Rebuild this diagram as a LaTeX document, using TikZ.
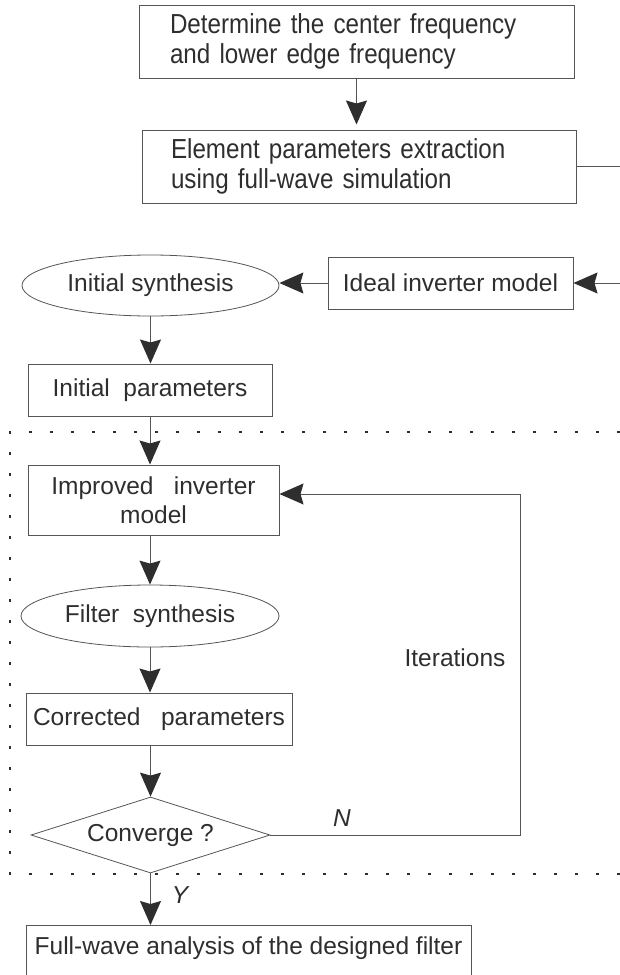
\documentclass[tikz,border=0pt]{standalone}
\usepackage{fontspec}
\setmainfont{Liberation Sans}
\newfontfamily\tallfont{Liberation Sans}[FakeStretch=0.88]
\usetikzlibrary{shapes.geometric,arrows.meta,positioning,calc}

\definecolor{linegray}{HTML}{555555}
\definecolor{inkgray}{HTML}{2E2E2E}

\begin{document}
\begin{tikzpicture}[x=1pt, y=-1pt,
    every node/.style={font=\fontsize{24.5}{29}\selectfont, text=inkgray},
    box/.style={draw=linegray, line width=1pt, rectangle, inner sep=0pt, align=center},
    topbox/.style={box, minimum height=73pt, align=left, font=\tallfont\fontsize{27.5}{30}\selectfont},
    oval/.style={draw=linegray, line width=0.8pt, ellipse, inner sep=0pt},
    decision/.style={draw=linegray, line width=0.8pt, diamond, aspect=3.14, inner sep=0pt},
    link/.style={draw=linegray, line width=1pt},
    flow/.style={link, -{Stealth[length=24pt, width=21pt, inset=3pt, color=inkgray]}},
    frame/.style={draw=inkgray, line width=2.8pt, dash pattern=on 2.8pt off 18.2pt},
    tag/.style={font=\fontsize{24.5}{29}\selectfont\itshape}]
    \useasboundingbox (0,0) rectangle (620,975);
    \clip (0,0) rectangle (620,975);

    % Preparation
    \node[topbox, minimum width=435pt, text width=373pt] (detfreq) at (356.5,41.5) {Determine the center frequency\\and lower edge frequency};
    \node[topbox, minimum width=434pt, text width=376pt] (extract) at (359,166.5) {Element parameters extraction\\using full-wave simulation};
    \node[box, minimum width=245pt, minimum height=52pt] (ideal) at (450.5,283) {Ideal inverter model};
    \node[oval, minimum width=257pt, minimum height=61pt] (initsyn) at (150.5,285.5) {Initial synthesis};
    \node[box, minimum width=244pt, minimum height=52pt] (initpar) at (150,390) {Initial\ \ parameters};

    % Iteration loop
    \node[box, minimum width=251pt, minimum height=70pt] (improved) at (153.5,500) {Improved\ \ \ inverter\\model};
    \node[oval, minimum width=258pt, minimum height=62pt] (filtsyn) at (150,616) {Filter\ \ synthesis};
    \node[box, minimum width=266pt, minimum height=52pt] (corrpar) at (159,719) {Corrected\ \ \ parameters};
    \node[decision, minimum width=239pt, minimum height=76pt] (converge) at (150.5,835) {Converge\ ?};
    \node (iters) at (455,658) {Iterations};
    \node[tag] (nlabel) at (342,818) {N};
    \node[tag] (ylabel) at (180,895) {Y};

    % Result
    \node[box, anchor=north, minimum width=445pt, text height=24pt, text depth=38pt, inner ysep=5pt] (fullwave) at (248.5,925) {Full-wave\ analysis of the designed filter};

    \coordinate (extractout) at (620,166.5);
    \coordinate (idealin) at (620,283);
    \coordinate (loopback) at (520,494);

    % Arrows
    \draw[flow, shorten >=5pt] (detfreq.south) -- (detfreq.south |- extract.north);
    \draw[link] (extract.east) -- (extractout);
    \draw[flow] (idealin) -- (ideal.east);
    \draw[flow] (ideal.west) -- (ideal.west -| initsyn.east);
    \draw[flow] (initsyn.south) -- (initsyn.south |- initpar.north);
    \draw[flow] (initpar.south) -- (initpar.south |- improved.north);
    \draw[flow] (improved.south -| filtsyn.north) -- (filtsyn.north);
    \draw[flow] (filtsyn.south) -- (filtsyn.south |- corrpar.north);
    \draw[flow] (corrpar.south -| converge.north) -- (converge.north);
    \draw[flow] (converge.east) -| (loopback) -- (loopback -| improved.east);
    \draw[flow] (converge.south) -- (converge.south |- fullwave.north);

    % Dotted frame
    \draw[frame] (620,432) -- (10,432) -- (10,874) -- (620,874);
\end{tikzpicture}
\end{document}
